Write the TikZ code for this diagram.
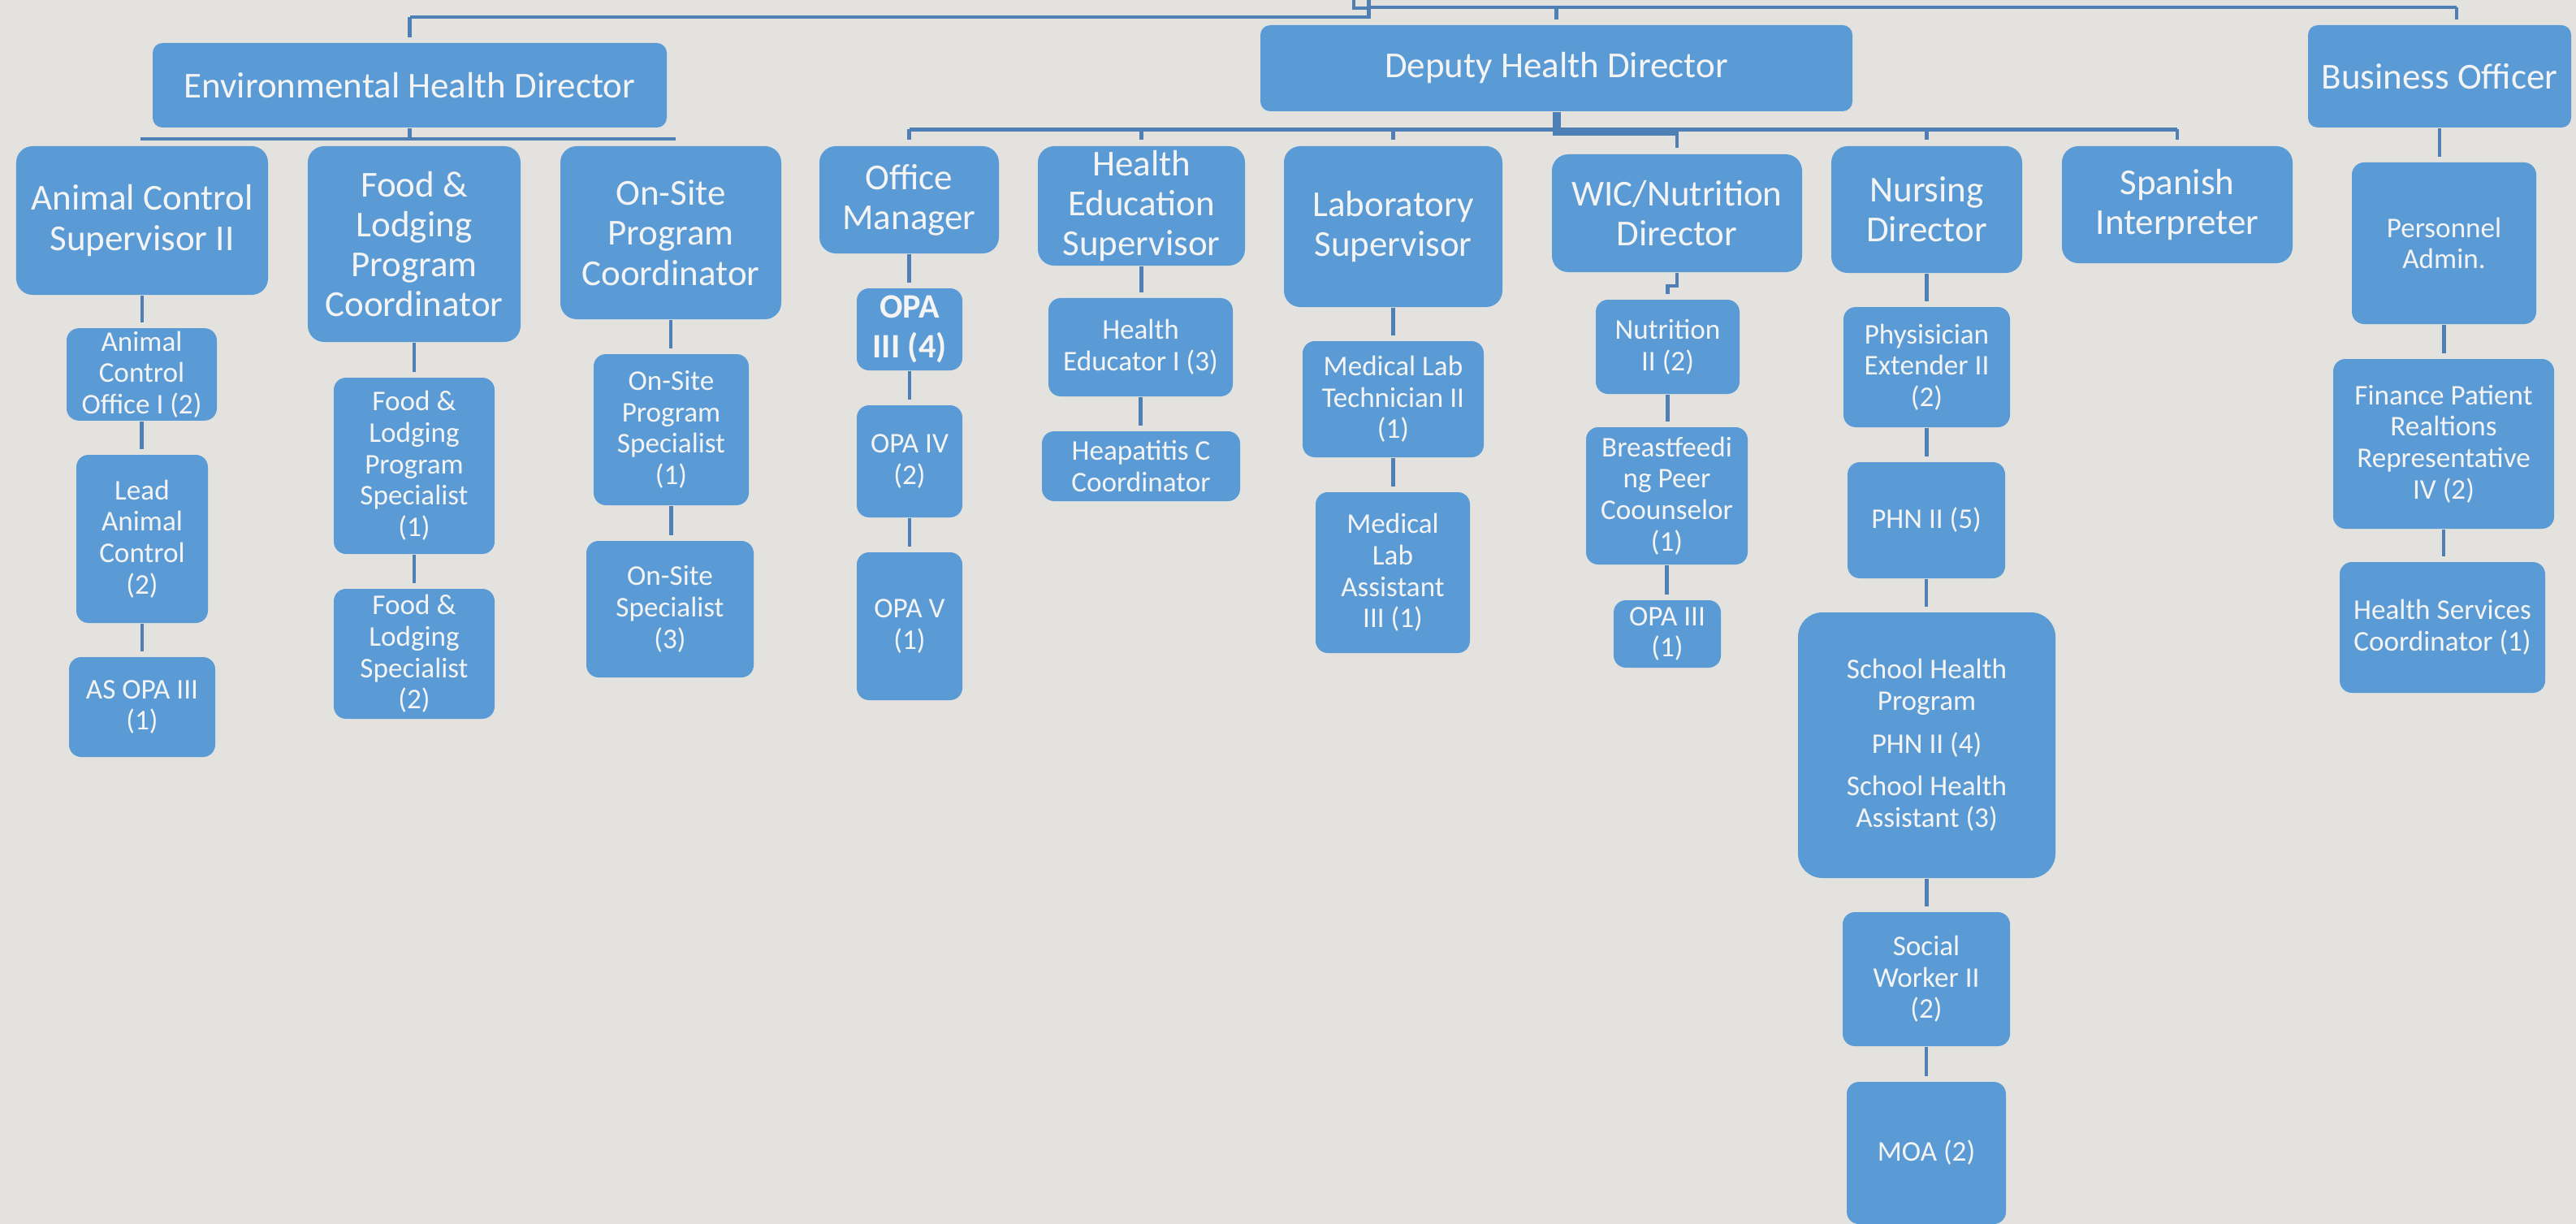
\documentclass[tikz,border=0pt]{standalone}
\usepackage{fontspec}
\setmainfont{Carlito}
\usepackage{tikz}
\definecolor{bgcol}{HTML}{E3E2DE}
\definecolor{boxcol}{HTML}{5B9BD5}
\definecolor{linecol}{HTML}{4E80B6}
\definecolor{txtcol}{HTML}{F4F4F4}
\tikzstyle{post} = [rectangle, rounded corners=0.15cm, fill=boxcol, text=txtcol, align=center, inner sep=1pt, font=\fontsize{10}{11}\selectfont]
\tikzstyle{head} = [post, rounded corners=0.2cm, font=\fontsize{12.8}{14}\selectfont]
\tikzstyle{lead} = [head, rounded corners=0.12cm]
\tikzstyle{link} = [draw=linecol, line width=1.3pt]
\tikzstyle{drop} = [link, shorten >=0.06cm]

\begin{document}
\begin{tikzpicture}
\fill [bgcol] (0,0) rectangle (31.72,-15.07);
\useasboundingbox (0,0) rectangle (31.72,-15.07);

% top level
\node (envdir) [lead, minimum width=6.33cm, minimum height=1.04cm] at (5.045,-1.05) {Environmental Health Director};
\node (depdir) [lead, minimum width=7.29cm, minimum height=1.06cm] at (19.165,-0.84) {Deputy Health Director};
\node (busoff) [lead, minimum width=3.24cm, minimum height=1.26cm] at (30.04,-0.94) {Business Officer};

% environmental health
\node (animsup) [head, minimum width=3.10cm, minimum height=1.83cm] at (1.75,-2.715) {Animal Control\\Supervisor II};
\node (foodcoord) [head, minimum width=2.62cm, minimum height=2.41cm] at (5.10,-3.005) {Food \&\\Lodging\\Program\\Coordinator};
\node (sitecoord) [head, minimum width=2.72cm, minimum height=2.13cm] at (8.26,-2.865) {On-Site\\Program\\Coordinator};
\node (animoff) [post, minimum width=1.85cm, minimum height=1.12cm] at (1.745,-4.61) {Animal\\Control\\Office I (2)};
\node (leadanim) [post, minimum width=1.62cm, minimum height=2.07cm] at (1.75,-6.635) {Lead\\Animal\\Control\\(2)};
\node (asopa) [post, minimum width=1.80cm, minimum height=1.23cm] at (1.75,-8.705) {AS OPA III\\(1)};
\node (foodspec1) [post, minimum width=1.98cm, minimum height=2.17cm] at (5.10,-5.735) {Food \&\\Lodging\\Program\\Specialist\\(1)};
\node (foodspec2) [post, minimum width=1.98cm, minimum height=1.60cm] at (5.10,-8.05) {Food \&\\Lodging\\Specialist\\(2)};
\node (sitespec1) [post, minimum width=1.91cm, minimum height=1.86cm] at (8.265,-5.29) {On-Site\\Program\\Specialist\\(1)};
\node (sitespec3) [post, minimum width=2.06cm, minimum height=1.68cm] at (8.25,-7.50) {On-Site\\Specialist\\(3)};

% deputy
\node (offmgr) [head, minimum width=2.21cm, minimum height=1.32cm] at (11.195,-2.46) {Office\\Manager};
\node (hedsup) [head, minimum width=2.55cm, minimum height=1.47cm] at (14.055,-2.535) {Health\\Education\\Supervisor};
\node (labsup) [head, minimum width=2.69cm, minimum height=1.98cm] at (17.155,-2.79) {Laboratory\\Supervisor};
\node (wicdir) [head, minimum width=3.08cm, minimum height=1.45cm] at (20.65,-2.625) {WIC/Nutrition\\Director};
\node (nursdir) [head, minimum width=2.35cm, minimum height=1.56cm] at (23.725,-2.58) {Nursing\\Director};
\node (spanint) [head, minimum width=2.84cm, minimum height=1.44cm] at (26.81,-2.52) {Spanish\\Interpreter};

\node (opa3) [post, minimum width=1.30cm, minimum height=1.01cm, font=\fontsize{12}{14}\selectfont\bfseries] at (11.20,-4.055) {OPA\\III (4)};
\node (opa4) [post, minimum width=1.30cm, minimum height=1.38cm] at (11.20,-5.68) {OPA IV\\(2)};
\node (opa5) [post, minimum width=1.30cm, minimum height=1.82cm] at (11.20,-7.71) {OPA V\\(1)};
\node (hedu) [post, minimum width=2.27cm, minimum height=1.21cm] at (14.045,-4.275) {Health\\Educator I (3)};
\node (hepc) [post, minimum width=2.44cm, minimum height=0.86cm] at (14.05,-5.74) {Heapatitis C\\Coordinator};
\node (labtech) [post, minimum width=2.23cm, minimum height=1.43cm] at (17.155,-4.915) {Medical Lab\\Technician II\\(1)};
\node (labasst) [post, minimum width=1.90cm, minimum height=1.98cm] at (17.15,-7.05) {Medical\\Lab\\Assistant\\III (1)};
\node (nutr) [post, minimum width=1.77cm, minimum height=1.16cm] at (20.535,-4.27) {Nutrition\\II (2)};
\node (bfpeer) [post, minimum width=1.99cm, minimum height=1.69cm] at (20.525,-6.105) {Breastfeedi\\ng Peer\\Coounselor\\(1)};
\node (wicopa) [post, minimum width=1.32cm, minimum height=0.83cm] at (20.53,-7.805) {OPA III\\(1)};
\node (physext) [post, minimum width=2.05cm, minimum height=1.48cm] at (23.725,-4.52) {Physisician\\Extender II\\(2)};
\node (phn5) [post, minimum width=1.94cm, minimum height=1.43cm] at (23.72,-6.405) {PHN II (5)};
\node (school) [post, rounded corners=0.3cm, minimum width=3.17cm, minimum height=3.27cm] at (23.725,-9.175) {School Health\\Program\\[4pt]PHN II (4)\\[4pt]School Health\\Assistant (3)};
\node (socwork) [post, minimum width=2.06cm, minimum height=1.65cm] at (23.72,-12.055) {Social\\Worker II\\(2)};
\node (moa) [post, minimum width=1.96cm, minimum height=1.75cm] at (23.72,-14.195) {MOA (2)};

% business
\node (persadm) [post, minimum width=2.27cm, minimum height=1.99cm] at (30.095,-2.995) {Personnel\\Admin.};
\node (finrep) [post, minimum width=2.72cm, minimum height=2.09cm] at (30.09,-5.465) {Finance Patient\\Realtions\\Representative\\IV (2)};
\node (hsvcoord) [post, minimum width=2.53cm, minimum height=1.61cm] at (30.075,-7.725) {Health Services\\Coordinator (1)};

% top connectors
\coordinate (topstem) at (16.855,0);
\coordinate (topjog) at (16.67,0);
\coordinate (jogend) at (16.855,-0.10);
\coordinate (leftbar) at (0,-0.21);
\coordinate (rightbar) at (0,-0.09);
\coordinate (bustick) at (30.25,-0.09);
\draw [link] (topstem) -- (topstem |- leftbar) -- (envdir.north |- leftbar);
\draw [drop] (envdir.north |- leftbar) -- (envdir.north);
\draw [link] (topjog) |- (jogend);
\draw [link] (topstem |- rightbar) -- (bustick);
\draw [drop] (bustick) -- (bustick |- busoff.north);
\draw [drop] (depdir.north |- rightbar) -- (depdir.north);

% environmental bar
\coordinate (envbar) at (0,-1.71);
\draw [link] (envdir.south) -- (envdir.south |- envbar);
\draw [link] (1.73,-1.71) coordinate (envbarl) -- (8.32,-1.71) coordinate (envbarr);

% deputy bar
\coordinate (depbar) at (0,-1.595);
\coordinate (depthick) at (0,-1.62);
\draw [link] (offmgr.north |- depbar) -- (spanint.north |- depbar);
\draw [link, line width=0.1cm] (depdir.south) |- (wicdir.north |- depthick);
\foreach \n in {offmgr, hedsup, labsup, wicdir, nursdir, spanint}
  \draw [link, shorten >=0.07cm] (\n.north |- depbar) -- (\n.north);

% wic jog
\coordinate (wicjog) at (0,-3.52);
\draw [drop] (wicdir.south) |- (wicjog -| nutr.north) -- (nutr.north);

% columns
\foreach \a/\b in {animsup/animoff, animoff/leadanim, leadanim/asopa,
  foodcoord/foodspec1, foodspec1/foodspec2, sitecoord/sitespec1, sitespec1/sitespec3,
  offmgr/opa3, opa3/opa4, opa4/opa5, hedsup/hedu, hedu/hepc,
  labsup/labtech, labtech/labasst, nutr/bfpeer, bfpeer/wicopa,
  nursdir/physext, physext/phn5, phn5/school, school/socwork, socwork/moa,
  busoff/persadm, persadm/finrep, finrep/hsvcoord}
  \draw [drop] (\a.south) -- (\a.south |- \b.north);
\end{tikzpicture}
\end{document}
